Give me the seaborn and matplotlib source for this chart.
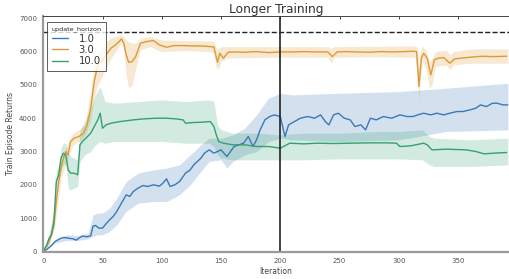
import matplotlib
matplotlib.use("Agg")
import matplotlib.pyplot as plt
import pandas as pd
import seaborn as sns

horizons = ["1.0", "3.0", "10.0"]

# update_horizon = 1.0 (mean curve)
it_1 = [0, 3, 7, 10, 14, 17, 21, 25, 28, 30, 33, 37, 40, 42, 44, 47, 50, 53, 56, 59,
        62, 66, 70, 73, 76, 80, 84, 88, 93, 98, 101, 104, 107, 111, 115, 120, 124, 127, 130, 133,
        136, 140, 144, 147, 150, 155, 158, 161, 165, 169, 173, 177, 180, 183, 187, 191, 195, 200, 202, 204,
        207, 212, 217, 223, 229, 234, 238, 241, 245, 249, 254, 259, 263, 268, 272, 276, 281, 287, 294, 301,
        307, 312, 316, 321, 327, 332, 338, 343, 349, 354, 360, 365, 369, 374, 379, 383, 388, 392]
mean_1 = [0, 60, 180, 300, 380, 420, 400, 380, 340, 400, 460, 440, 470, 760, 780, 700, 700, 830, 950, 1050,
          1200, 1450, 1700, 1650, 1800, 1900, 1980, 1950, 2000, 1960, 2050, 2180, 1950, 2000, 2100, 2350, 2450, 2600, 2700, 2800,
          2950, 3050, 2950, 3000, 3050, 2850, 3000, 3150, 3200, 3250, 3450, 3150, 3350, 3650, 3950, 4050, 4100, 4050, 3750, 3450,
          3800, 3900, 4000, 4050, 4000, 4100, 3900, 3800, 4100, 4150, 4000, 3950, 3750, 3800, 3650, 4000, 3950, 4050, 4000, 4100,
          4050, 4050, 4100, 4150, 4100, 4150, 4100, 4150, 4200, 4200, 4250, 4300, 4400, 4350, 4450, 4450, 4400, 4400]
# update_horizon = 1.0 (spread)
bx_1 = [0, 10, 20, 30, 38, 42, 46, 50, 56, 62, 70, 80, 93, 104, 115, 124, 133, 140, 150, 155,
        160, 170, 180, 190, 200, 210, 250, 300, 340, 392]
lo_1 = [0, 250, 330, 330, 380, 450, 500, 500, 600, 800, 1200, 1450, 1500, 1500, 1700, 2000, 2400, 2700, 2750, 2500,
        2700, 2900, 3000, 3300, 3400, 3350, 3300, 3350, 3600, 3650]
hi_1 = [0, 350, 500, 480, 560, 1100, 1150, 1150, 1300, 1600, 2100, 2350, 2450, 2500, 2600, 2900, 3200, 3400, 3400, 3450,
        3500, 3700, 4100, 4600, 4750, 4700, 4750, 4800, 4900, 5050]

# update_horizon = 3.0
it_3 = [0, 3, 6, 9, 11, 13, 15, 17, 19, 21, 23, 26, 30, 34, 37, 40, 43, 46, 49, 53,
        57, 61, 64, 66, 68, 70, 72, 75, 78, 82, 87, 93, 98, 104, 110, 118, 125, 132, 138, 144,
        145.5, 147, 149, 152, 156, 161, 170, 180, 190, 200, 210, 220, 230, 240, 244, 248, 255, 265, 275, 285,
        295, 305, 312, 315, 317, 319, 321, 324, 327, 330, 333, 338, 343, 347, 352, 360, 370, 380, 391]
mean_3 = [0, 150, 400, 800, 1500, 2100, 2500, 2800, 3000, 2900, 3300, 3400, 3450, 3550, 3800, 4300, 5100, 5600, 5700, 5900,
          6100, 6200, 6300, 6380, 6250, 5900, 5680, 5700, 5850, 6250, 6300, 6330, 6200, 6130, 6180, 6180, 6170, 6170, 6160, 6140,
          5900, 5680, 5950, 5800, 5980, 5990, 5980, 6000, 5970, 5990, 5990, 6000, 5990, 5990, 5850, 5990, 6000, 5990, 5980, 6000,
          5990, 6000, 6010, 6000, 4950, 5800, 5950, 5800, 5300, 5750, 5800, 5820, 5650, 5780, 5800, 5830, 5860, 5850, 5860]
bx_3 = [0, 5, 10, 15, 20, 25, 30, 35, 40, 43, 46, 49, 53, 57, 61, 64, 66, 68, 70, 72,
        75, 78, 82, 90, 100, 120, 140, 144, 146, 148, 150, 155, 170, 200, 240, 243, 245, 247, 280, 314,
        316, 317, 318, 320, 323, 326, 328, 331, 340, 343, 346, 360, 392]
lo_3 = [0, 200, 800, 2200, 2700, 3200, 3300, 3450, 3900, 4600, 5000, 5200, 5500, 5800, 6000, 6150, 6250, 6000, 5300, 4900,
        5000, 5500, 6050, 6150, 6000, 6030, 6000, 5950, 5500, 5500, 5700, 5800, 5820, 5830, 5830, 5650, 5830, 5830, 5840, 5830,
        5200, 4400, 5100, 5700, 5500, 4900, 5000, 5550, 5600, 5450, 5600, 5650, 5650]
hi_3 = [0, 450, 1500, 2700, 3200, 3550, 3650, 3800, 4800, 5600, 5900, 6100, 6300, 6400, 6450, 6480, 6500, 6450, 6350, 6300,
        6250, 6250, 6400, 6450, 6350, 6330, 6320, 6300, 6100, 6100, 6150, 6150, 6150, 6150, 6150, 6100, 6150, 6150, 6160, 6170,
        6100, 5500, 6000, 6150, 6050, 5700, 5800, 6000, 6050, 5900, 6000, 6080, 6080]

# update_horizon = 10.0
it_10 = [0, 3, 5, 7, 9, 11, 13, 15, 17, 19, 21, 23, 26, 29, 31, 33, 36, 40, 43, 46,
         48, 50, 53, 57, 65, 76, 85, 95, 104, 112, 118, 120, 126, 134, 141, 144, 146, 148, 152, 160,
         170, 180, 190, 200, 208, 220, 231, 245, 259, 275, 290, 298, 301, 310, 321, 324, 328, 340, 357, 365,
         372, 380, 391]
mean_10 = [0, 200, 400, 500, 900, 2100, 2300, 2800, 2950, 2900, 2450, 2350, 2350, 2300, 3200, 3300, 3400, 3550, 3750, 3950,
           4150, 3700, 3800, 3850, 3900, 3950, 3980, 4000, 4000, 3980, 3950, 3850, 3870, 3880, 3900, 3750, 3500, 3300, 3250, 3200,
           3200, 3150, 3150, 3100, 3250, 3230, 3250, 3240, 3250, 3260, 3260, 3250, 3150, 3170, 3250, 3200, 3050, 3070, 3050, 3000,
           2930, 2950, 2970]
bx_10 = [0, 5, 9, 11, 13, 15, 17, 19, 21, 23, 26, 29, 31, 35, 40, 44, 48, 52, 60, 80,
         100, 120, 140, 144, 147, 150, 160, 180, 200, 220, 250, 280, 300, 320, 326, 330, 360, 392]
lo_10 = [0, 250, 700, 1850, 2050, 2450, 2650, 2600, 1900, 1850, 1900, 1950, 2700, 2900, 3000, 3200, 3300, 3250, 3300, 3300,
         3300, 3250, 3250, 3150, 2900, 2800, 2750, 2750, 2750, 2750, 2780, 2780, 2780, 2750, 2600, 2550, 2550, 2600]
hi_10 = [0, 550, 1200, 2400, 2600, 3100, 3250, 3250, 2950, 2850, 2800, 2750, 3650, 3900, 4300, 4700, 4950, 4500, 4450, 4500,
         4550, 4500, 4550, 4500, 3800, 3650, 3550, 3550, 3500, 3550, 3550, 3600, 3600, 3650, 3450, 3400, 3350, 3400]

best_score = 6600
marker_iter = 200

# long-form table for seaborn
df = pd.concat([
    pd.DataFrame({"Iteration": it_1, "Train Episode Returns": mean_1, "update_horizon": "1.0"}),
    pd.DataFrame({"Iteration": it_3, "Train Episode Returns": mean_3, "update_horizon": "3.0"}),
    pd.DataFrame({"Iteration": it_10, "Train Episode Returns": mean_10, "update_horizon": "10.0"}),
])
bands = {"1.0": (bx_1, lo_1, hi_1), "3.0": (bx_3, lo_3, hi_3), "10.0": (bx_10, lo_10, hi_10)}

sns.set_style("white")
palette = dict(zip(horizons, ["#3a78b8", "#dd9a36", "#35a072"]))

fig, ax = plt.subplots(figsize=(5.09, 2.79), dpi=100)
fig.subplots_adjust(left=0.085, right=1.0, bottom=0.097, top=0.944)

for h in horizons:
    bx, lo, hi = bands[h]
    ax.fill_between(bx, lo, hi, color=palette[h], alpha=0.22, lw=0)

sns.lineplot(data=df, x="Iteration", y="Train Episode Returns", hue="update_horizon",
             hue_order=horizons, palette=palette, errorbar=None, lw=1.0, ax=ax)

ax.axhline(best_score, color="#222222", ls="--", lw=1.0)
ax.axvline(marker_iter, color="#222222", lw=1.2)

ax.set_xlim(0, 393)
ax.set_ylim(-15, 7080)
ax.set_xticks(range(0, 351, 50))
ax.set_yticks(range(0, 7001, 1000))
ax.set_title("Longer Training", fontsize=8.8, color="#333333", pad=0.5)
ax.set_xlabel("Iteration", fontsize=5.5, color="#444444", labelpad=2)
ax.set_ylabel("Train Episode Returns", fontsize=5.5, color="#444444", labelpad=3)
ax.tick_params(axis="both", labelsize=5, colors="#555555", length=2.5, width=0.8, direction="out", pad=2)

for s in ["left", "bottom"]:
    ax.spines[s].set_color("#9a9a9a")
    ax.spines[s].set_linewidth(1.6)
ax.spines["top"].set_color("#444444")
ax.spines["top"].set_linewidth(0.7)
ax.spines["right"].set_visible(False)

top = ax.secondary_xaxis("top")
top.set_xticks(range(50, 351, 50))
top.tick_params(direction="in", length=2.5, width=0.7, colors="#444444", labeltop=False)
top.spines["top"].set_visible(False)

leg = ax.legend(title="update_horizon", loc="upper left", bbox_to_anchor=(0.008, 0.972),
                fontsize=7.2, title_fontsize=4.6, frameon=True, fancybox=False,
                edgecolor="#333333", borderaxespad=0, handlelength=1.6, handletextpad=1.0,
                labelspacing=0.12, borderpad=0.45)
leg.get_frame().set_linewidth(0.7)
for t in leg.get_texts():
    t.set_color("#333333")

fig.savefig("out.png", dpi=100)
